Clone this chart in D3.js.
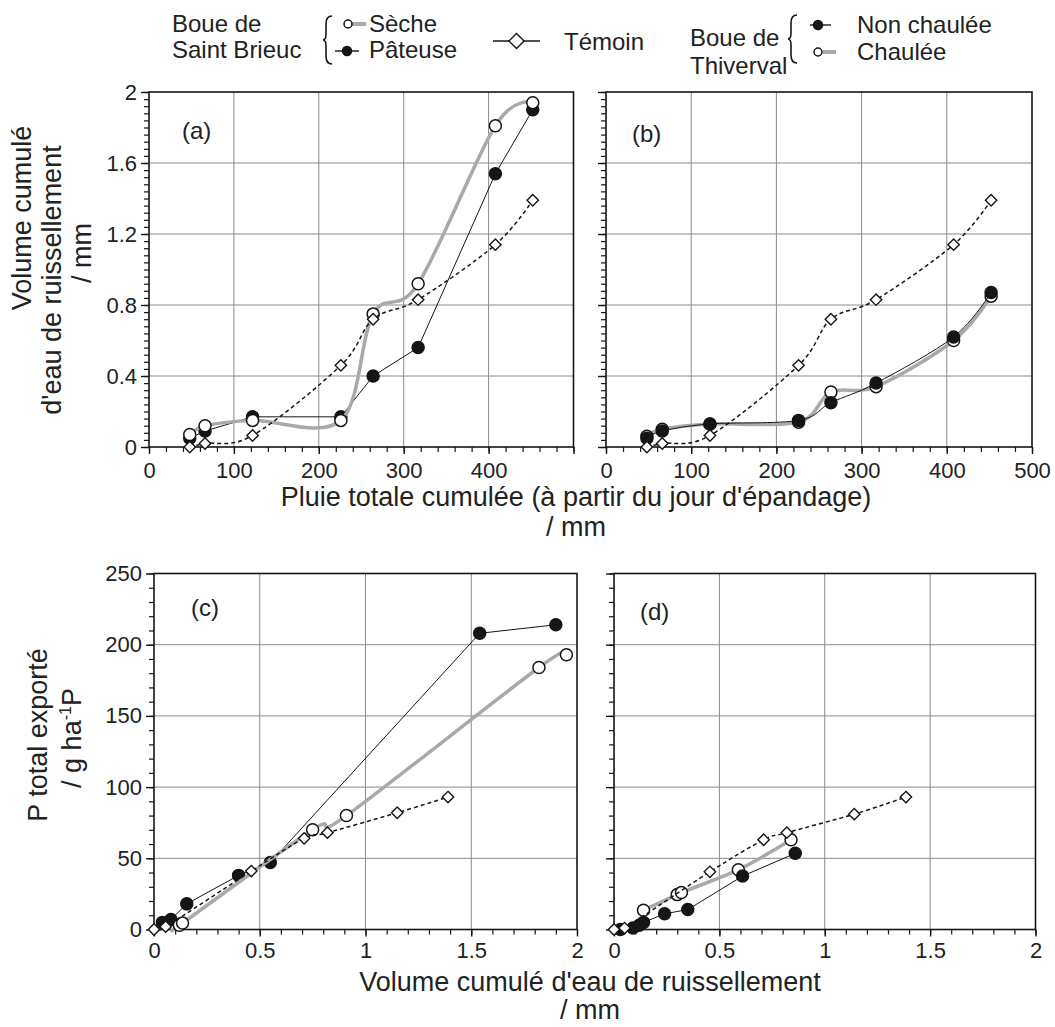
<!DOCTYPE html>
<html><head><meta charset="utf-8">
<script src="https://cdn.jsdelivr.net/npm/d3@7"></script>
<style>
body{margin:0;background:#fff}
text{font-family:"Liberation Sans",Arial,Helvetica,sans-serif;fill:#222}
</style>
</head><body>
<svg id="chart" width="1055" height="1027"></svg>
<script>
// ---------- DATA ----------
// Top panels: cumulative rain (mm) vs cumulative runoff (mm)
const rain = [48, 66, 122, 226, 264, 317, 408, 452];
const temoinRunoff   = [0, 0.02, 0.065, 0.46, 0.72, 0.83, 1.14, 1.39];
const secheRunoff    = [0.07, 0.12, 0.15, 0.15, 0.75, 0.92, 1.81, 1.94];
const pateuseRunoff  = [0.05, 0.09, 0.17, 0.17, 0.40, 0.56, 1.54, 1.90];
const nonChauleeRunoff = [0.05, 0.09, 0.13, 0.15, 0.25, 0.36, 0.62, 0.87];
const chauleeRunoff    = [0.06, 0.10, 0.13, 0.14, 0.31, 0.34, 0.60, 0.85];

// Bottom panels: cumulative runoff (mm) vs total P exported (g/ha P)
const pateuseCx = [0.04, 0.08, 0.155, 0.40, 0.55, 1.54, 1.90];
const pateuseCy = [5, 7, 18, 38, 47, 208, 214];
const secheCx   = [0.12, 0.135, 0.75, 0.91, 1.82, 1.95];
const secheCy   = [3, 4.5, 70, 80, 184, 193];
const temoinCx  = [0, 0.055, 0.46, 0.71, 0.82, 1.15, 1.39];
const temoinCy  = [0, 2, 41, 64, 68, 82, 93];

const nonChauleeDx = [0.03, 0.09, 0.12, 0.14, 0.24, 0.35, 0.61, 0.86];
const nonChauleeDy = [0, 1, 3, 5, 11, 14, 37.5, 53.5];
const chauleeDx    = [0.14, 0.30, 0.32, 0.59, 0.84];
const chauleeDy    = [13.5, 24.5, 26, 42, 63];
const temoinDx     = [0, 0.05, 0.455, 0.71, 0.82, 1.14, 1.385];
const temoinDy     = [0, 1, 40.5, 63, 68, 81, 93];

// Ticks
const rainTicks = [0, 100, 200, 300, 400, 500];
const runoffYTicks = [0, 0.4, 0.8, 1.2, 1.6, 2];
const runoffXTicks = [0, 0.5, 1, 1.5, 2];
const pTicks = [0, 50, 100, 150, 200, 250];

// ---------- DRAWING ----------
const svg = d3.select("#chart");
const FONT = '"Liberation Sans",Arial,Helvetica,sans-serif';
const GRAY = "#a9a9a9", INK = "#151515";
const TITLE = 27;

const styles = {
  gray:   {stroke: GRAY, width: 3.5, dash: null, marker: "open"},
  black:  {stroke: INK, width: 1, dash: null, marker: "filled"},
  temoin: {stroke: INK, width: 1.5, dash: "4,3", marker: "diamond"}
};

function panel(cfg) {
  const x = d3.scaleLinear().domain(cfg.xd).range(cfg.xr);
  const y = d3.scaleLinear().domain(cfg.yd).range(cfg.yr);
  const g = svg.append("g");

  // grid
  g.selectAll(".vg").data(cfg.xTicks.slice(1, -1)).join("line")
    .attr("x1", d => x(d)).attr("x2", d => x(d))
    .attr("y1", cfg.yr[0]).attr("y2", cfg.yr[1])
    .attr("stroke", "#8a8a8a").attr("stroke-width", 1);
  g.selectAll(".hg").data(cfg.yTicks.slice(1, -1)).join("line")
    .attr("y1", d => y(d)).attr("y2", d => y(d))
    .attr("x1", cfg.xr[0]).attr("x2", cfg.xr[1])
    .attr("stroke", "#8a8a8a").attr("stroke-width", 1);

  // minor ticks
  const xMinor = d3.range(cfg.xd[0], cfg.xd[1] + 1e-9, cfg.xMinor);
  const yMinor = d3.range(cfg.yd[0], cfg.yd[1] + 1e-9, cfg.yMinor);
  g.append("g").attr("transform", `translate(0,${cfg.yr[0]})`)
    .call(d3.axisBottom(x).tickValues(xMinor).tickSize(5).tickFormat(""))
    .call(a => a.select(".domain").remove())
    .call(a => a.selectAll("line").attr("stroke", INK).attr("stroke-width", 1.2));
  g.append("g").attr("transform", `translate(${cfg.xr[0]},0)`)
    .call(d3.axisLeft(y).tickValues(yMinor).tickSize(5).tickFormat(""))
    .call(a => a.select(".domain").remove())
    .call(a => a.selectAll("line").attr("stroke", INK).attr("stroke-width", 1.2));

  // major axes
  g.append("g").attr("transform", `translate(0,${cfg.yr[0]})`)
    .call(d3.axisBottom(x).tickValues(cfg.xTicks).tickSize(7).tickPadding(cfg.xPad)
      .tickFormat(d => cfg.xLabel(d)))
    .call(a => a.select(".domain").remove())
    .call(a => a.selectAll("line").attr("stroke", INK).attr("stroke-width", 1.4))
    .call(a => a.selectAll("text").attr("font-size", 22).attr("font-family", FONT).attr("fill", "#222"));
  g.append("g").attr("transform", `translate(${cfg.xr[0]},0)`)
    .call(d3.axisLeft(y).tickValues(cfg.yTicks).tickSize(8).tickPadding(4)
      .tickFormat(d => cfg.yLabel(d)))
    .call(a => a.select(".domain").remove())
    .call(a => a.selectAll("line").attr("stroke", INK).attr("stroke-width", 1.4))
    .call(a => a.selectAll("text").attr("font-size", 22).attr("font-family", FONT).attr("fill", "#222"));

  // frame
  g.append("rect")
    .attr("x", cfg.xr[0]).attr("y", cfg.yr[1])
    .attr("width", cfg.xr[1] - cfg.xr[0]).attr("height", cfg.yr[0] - cfg.yr[1])
    .attr("fill", "none").attr("stroke", INK).attr("stroke-width", 1.6);

  // series
  cfg.series.forEach(s => {
    const st = styles[s.style];
    const pts = s.xs.map((v, i) => [x(v), y(s.ys[i])]);
    const line = d3.line().curve(s.smooth ? d3.curveCardinal.tension(0) : d3.curveLinear);
    g.append("path").attr("d", line(pts))
      .attr("fill", "none").attr("stroke", st.stroke).attr("stroke-width", st.width)
      .attr("stroke-dasharray", st.dash).attr("stroke-linejoin", "round");
    drawMarkers(g, pts, st.marker, 6);
  });

  g.append("text").attr("x", cfg.labelPos[0]).attr("y", cfg.labelPos[1])
    .attr("font-size", 24).text(cfg.label);
}

function drawMarkers(g, pts, kind, r) {
  pts.forEach(p => drawMarker(g, p[0], p[1], kind, r));
}
function drawMarker(g, cx, cy, kind, r) {
  if (kind === "diamond") {
    const h = r * 0.95;
    g.append("path").attr("d", `M${cx},${cy - h}L${cx + h},${cy}L${cx},${cy + h}L${cx - h},${cy}Z`)
      .attr("fill", "#fff").attr("stroke", INK).attr("stroke-width", 1.4);
  } else {
    g.append("circle").attr("cx", cx).attr("cy", cy).attr("r", r)
      .attr("fill", kind === "filled" ? INK : "#fff")
      .attr("stroke", INK).attr("stroke-width", 1.5);
  }
}

const fmtRunoff = d => d === 0 ? "0" : d3.format(".1f")(d).replace(/\.0$/, "");
const topY = [447, 92], botY = [929.5, 573.5];

panel({
  xd: [0, 500], yd: [0, 2], xr: [149, 573.5], yr: topY, xPad: 8,
  xTicks: rainTicks, yTicks: runoffYTicks, xMinor: 20, yMinor: 0.04,
  xLabel: d => d === 500 ? "" : d, yLabel: fmtRunoff,
  label: "(a)", labelPos: [182, 139],
  series: [
    {xs: rain, ys: pateuseRunoff, style: "black", smooth: false},
    {xs: rain, ys: secheRunoff, style: "gray", smooth: true},
    {xs: rain, ys: temoinRunoff, style: "temoin", smooth: true}
  ]
});
panel({
  xd: [0, 500], yd: [0, 2], xr: [606, 1032], yr: topY, xPad: 8,
  xTicks: rainTicks, yTicks: runoffYTicks, xMinor: 20, yMinor: 0.04,
  xLabel: d => d, yLabel: () => "",
  label: "(b)", labelPos: [632, 142],
  series: [
    {xs: rain, ys: chauleeRunoff, style: "gray", smooth: true},
    {xs: rain, ys: nonChauleeRunoff, style: "black", smooth: true},
    {xs: rain, ys: temoinRunoff, style: "temoin", smooth: true}
  ]
});
panel({
  xd: [0, 2], yd: [0, 250], xr: [154, 577], yr: botY, xPad: 6,
  xTicks: runoffXTicks, yTicks: pTicks, xMinor: 0.1, yMinor: 10,
  xLabel: d => d, yLabel: d => d,
  label: "(c)", labelPos: [191, 616],
  series: [
    {xs: pateuseCx, ys: pateuseCy, style: "black", smooth: false},
    {xs: secheCx, ys: secheCy, style: "gray", smooth: true},
    {xs: temoinCx, ys: temoinCy, style: "temoin", smooth: true}
  ]
});
panel({
  xd: [0, 2], yd: [0, 250], xr: [614, 1035.5], yr: botY, xPad: 6,
  xTicks: runoffXTicks, yTicks: pTicks, xMinor: 0.1, yMinor: 10,
  xLabel: d => d, yLabel: () => "",
  label: "(d)", labelPos: [640, 620],
  series: [
    {xs: chauleeDx, ys: chauleeDy, style: "gray", smooth: true},
    {xs: nonChauleeDx, ys: nonChauleeDy, style: "black", smooth: false},
    {xs: temoinDx, ys: temoinDy, style: "temoin", smooth: true}
  ]
});

// ---------- AXIS TITLES ----------
function txt(x, y, s, opts = {}) {
  const t = svg.append("text").attr("x", x).attr("y", y).attr("font-size", opts.size || TITLE)
    .attr("text-anchor", opts.anchor || "middle").attr("dy", "0.35em").text(s);
  if (opts.rotate) t.attr("transform", `rotate(-90,${x},${y})`);
  return t;
}
txt(576, 497, "Pluie totale cumulée (à partir du jour d'épandage)");
txt(576, 527, "/ mm");
txt(590, 982, "Volume cumulé d'eau de ruissellement");
txt(590, 1010, "/ mm");
txt(22, 218, "Volume cumulé", {rotate: true});
txt(52, 280, "d'eau de ruissellement", {rotate: true});
txt(82, 253, "/ mm", {rotate: true});
txt(38, 735, "P total exporté", {rotate: true});
const t2 = svg.append("text").attr("x", 72).attr("y", 738).attr("font-size", TITLE)
  .attr("text-anchor", "middle").attr("dy", "0.35em")
  .attr("transform", "rotate(-90,72,738)");
t2.append("tspan").text("/ g ha");
t2.append("tspan").attr("font-size", 16).attr("dy", "-10").text("-1");
t2.append("tspan").attr("dy", "10").text("P");

// ---------- LEGEND ----------
function lt(x, y, s) {
  svg.append("text").attr("x", x).attr("y", y).attr("font-size", 24).text(s);
}
function brace(x, y1, y2) {
  const m = (y1 + y2) / 2, w = 9;
  const p = `M${x + w},${y1} Q${x + 3},${y1} ${x + 3},${y1 + 8} L${x + 3},${m - 6} Q${x + 3},${m} ${x},${m}` +
            ` Q${x + 3},${m} ${x + 3},${m + 6} L${x + 3},${y2 - 8} Q${x + 3},${y2} ${x + w},${y2}`;
  svg.append("path").attr("d", p).attr("fill", "none").attr("stroke", INK).attr("stroke-width", 1.6);
}
function legLine(x1, x2, y, style) {
  const st = styles[style];
  svg.append("line").attr("x1", x1).attr("x2", x2).attr("y1", y).attr("y2", y)
    .attr("stroke", st.stroke).attr("stroke-width", style === "gray" ? 4 : 1.4);
}

lt(172, 31.5, "Boue de");
lt(172, 58, "Saint Brieuc");
brace(323, 16, 64);
legLine(352, 366, 24, "gray");
drawMarker(svg, 348, 24, "open", 4);
lt(369, 32, "Sèche");
legLine(335, 359, 51, "black");
drawMarker(svg, 347, 51, "filled", 4.5);
lt(369, 58, "Pâteuse");

legLine(493, 540, 41, "black");
drawMarker(svg, 516.5, 41, "diamond", 8);
lt(564, 50, "Témoin");

lt(690, 46, "Boue de");
lt(690, 74, "Thiverval");
brace(788, 15, 63);
legLine(810, 831, 25, "black");
drawMarker(svg, 818, 25, "filled", 4.5);
lt(857, 33, "Non chaulée");
legLine(823, 836, 52, "gray");
drawMarker(svg, 818, 52, "open", 4);
lt(857, 60, "Chaulée");
</script>
</body></html>
